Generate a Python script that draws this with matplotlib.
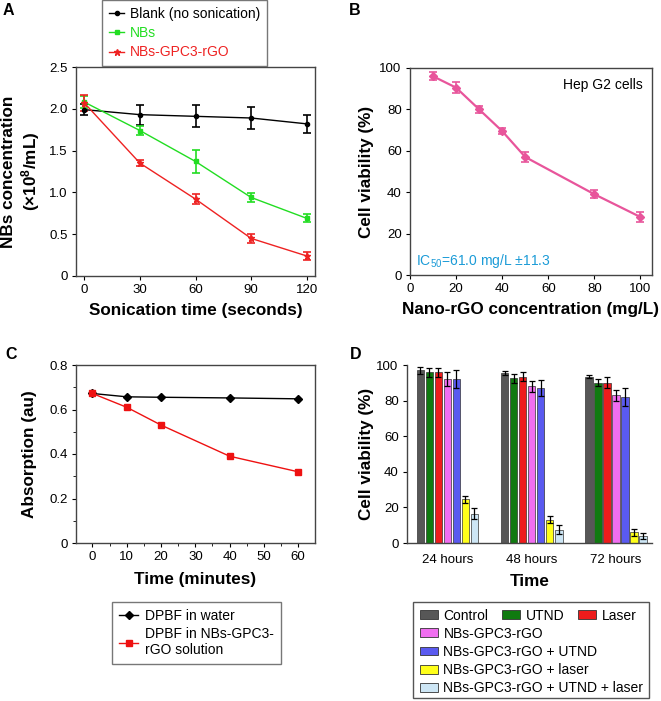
import matplotlib
matplotlib.use("Agg")
import matplotlib.pyplot as plt
import numpy as np
from matplotlib.patches import Patch, Rectangle
from matplotlib.lines import Line2D
from matplotlib.ticker import FuncFormatter, MultipleLocator

plt.rcParams['font.family'] = ['Liberation Sans', 'DejaVu Sans']
plt.rcParams['mathtext.default'] = 'regular'

# ---------------- Data ----------------
# Panel A
time_a = [0, 30, 60, 90, 120]
blank_a = [1.99, 1.93, 1.91, 1.89, 1.82]
blank_err = [0.07, 0.12, 0.13, 0.13, 0.11]
nbs_a = [2.08, 1.74, 1.37, 0.94, 0.69]
nbs_err = [0.07, 0.05, 0.14, 0.05, 0.05]
gpc_a = [2.07, 1.35, 0.92, 0.45, 0.24]
gpc_err = [0.10, 0.04, 0.06, 0.05, 0.05]
labels_a = ['Blank (no sonication)', 'NBs', 'NBs-GPC3-rGO']

# Panel B
conc_b = [10, 20, 30, 40, 50, 80, 100]
viab_b = [96, 90.5, 80, 69.5, 57, 39, 28]
viab_err = [2, 2.5, 1.8, 1.5, 2.5, 2, 2.5]

# Panel C
time_c = [0, 10, 20, 40, 60]
water_c = [0.672, 0.657, 0.655, 0.652, 0.648]
nbsrgo_c = [0.672, 0.61, 0.53, 0.39, 0.32]
labels_c = ['DPBF in water', 'DPBF in NBs-GPC3-\nrGO solution']

# Panel D
groups_d = ['24 hours', '48 hours', '72 hours']
series_d = ['Control', 'UTND', 'Laser', 'NBs-GPC3-rGO', 'NBs-GPC3-rGO + UTND',
            'NBs-GPC3-rGO + laser', 'NBs-GPC3-rGO + UTND + laser']
values_d = [
    [97, 95.5, 93.5],
    [96, 92.5, 90],
    [96, 93.5, 90],
    [92, 88, 83],
    [92, 87, 82],
    [24.5, 13, 6],
    [16.5, 7.5, 4],
]
errors_d = [
    [2, 1, 1],
    [2.5, 2.5, 2],
    [2.5, 2.5, 3],
    [4, 3, 3],
    [5, 4.5, 5],
    [2, 2, 2],
    [3, 2.5, 1.5],
]
colors_d = ['#575757', '#107a10', '#ee1c1c', '#f06ef0', '#5a5af0', '#ffff1a', '#cde6f5']

# ---------------- Figure ----------------
W, H = 661, 701
fig = plt.figure(figsize=(W / 100, H / 100), dpi=100)

def ax_at(l, t, r, b):
    return fig.add_axes([l / W, 1 - b / H, (r - l) / W, (b - t) / H])

TICK = 9.5
LAB = 12.3
LEG = 10
spine_col = '#444444'

def style(ax, box=True):
    for s in ax.spines.values():
        s.set_color(spine_col)
        s.set_linewidth(1.0)
    if not box:
        ax.spines['top'].set_visible(False)
        ax.spines['right'].set_visible(False)
    ax.tick_params(direction='out', length=3, width=0.8, labelsize=TICK, colors='black', pad=3)
    ax.tick_params(which='minor', direction='out', length=2, width=0.6)

zero_fmt = FuncFormatter(lambda v, p: '0' if v == 0 else '%.1f' % v)

# Panel A
axA = ax_at(76, 67, 315, 276)
style(axA)
c_black, c_green, c_red = 'black', '#22dd22', '#ee2222'
hA = []
for y, e, c, m, ms, lab in [(blank_a, blank_err, c_black, 'o', 3, labels_a[0]),
                            (nbs_a, nbs_err, c_green, 's', 3, labels_a[1]),
                            (gpc_a, gpc_err, c_red, '*', 4.5, labels_a[2])]:
    axA.errorbar(time_a, y, yerr=e, color=c, marker=m, markersize=ms, lw=1.0,
                 capsize=3, elinewidth=1.2, capthick=1.2)
    hA.append(Line2D([], [], color=c, marker=m, markersize=ms, lw=1.0, label=lab))
axA.set_xlim(-4.5, 124.5)
axA.set_ylim(0, 2.5)
axA.set_xticks(time_a)
axA.set_yticks([0, 0.5, 1.0, 1.5, 2.0, 2.5])
axA.yaxis.set_major_formatter(zero_fmt)
axA.set_xlabel('Sonication time (seconds)', fontsize=LAB, fontweight='bold')
axA.xaxis.set_label_coords(0.5, (276 - 303) / 209)
axA.set_ylabel('NBs concentration\n(×10$^{8}$/mL)', fontsize=LAB, fontweight='bold')
axA.yaxis.set_label_coords((42 - 76) / 239, 0.5)
legA = fig.legend(handles=hA, loc='upper left', bbox_to_anchor=(102 / W, 1 - 0 / H),
                  fontsize=LEG, frameon=True, fancybox=False, edgecolor='#555555',
                  labelcolor='linecolor', handlelength=1.1, borderpad=0.5, labelspacing=0.38,
                  handletextpad=0.4, borderaxespad=0)
legA.get_frame().set_linewidth(1.0)

# Panel B
axB = ax_at(410, 68, 652, 275)
style(axB)
c_pink = '#e8559b'
axB.errorbar(conc_b, viab_b, yerr=viab_err, color=c_pink, marker='D', markersize=4,
             lw=1.6, capsize=3, elinewidth=1.2, capthick=1.2)
axB.set_xlim(0, 105)
axB.set_ylim(0, 100)
axB.set_xticks([0, 20, 40, 60, 80, 100])
axB.set_yticks([0, 20, 40, 60, 80, 100])
axB.set_xlabel('Nano-rGO concentration (mg/L)', fontsize=LAB, fontweight='bold')
axB.xaxis.set_label_coords(0.5, (275 - 302) / 207)
axB.set_ylabel('Cell viability (%)', fontsize=LAB, fontweight='bold')
axB.yaxis.set_label_coords((374 - 410) / 242, 0.5)
axB.text(0.96, 0.95, 'Hep G2 cells', transform=axB.transAxes, ha='right', va='top', fontsize=LEG)
axB.text(0.025, 0.025, 'IC$_{50}$=61.0 mg/L ±11.3', transform=axB.transAxes, ha='left',
         va='bottom', fontsize=LEG, color='#1b9bd7')

# Panel C
axC = ax_at(76, 365, 315, 543)
style(axC)
axC.plot(time_c, water_c, color='black', marker='D', markersize=4, lw=1.0, label=labels_c[0])
axC.plot(time_c, nbsrgo_c, color='#ee1111', marker='s', markersize=5, lw=1.0, label=labels_c[1])
axC.set_xlim(-4.8, 64.9)
axC.set_ylim(0, 0.8)
axC.set_xticks([0, 10, 20, 30, 40, 50, 60])
axC.set_yticks([0, 0.2, 0.4, 0.6, 0.8])
axC.xaxis.set_minor_locator(MultipleLocator(5))
axC.yaxis.set_minor_locator(MultipleLocator(0.1))
axC.yaxis.set_major_formatter(zero_fmt)
axC.set_xlabel('Time (minutes)', fontsize=LAB, fontweight='bold')
axC.xaxis.set_label_coords(0.5, (543 - 572) / 178)
axC.set_ylabel('Absorption (au)', fontsize=LAB, fontweight='bold')
axC.yaxis.set_label_coords((37 - 76) / 239, 0.5)
hC, lC = axC.get_legend_handles_labels()
legC = fig.legend(hC, lC, loc='upper left', bbox_to_anchor=(112 / W, 1 - 602 / H),
                  fontsize=LEG, frameon=True, fancybox=False, edgecolor='#555555',
                  handlelength=1.4, borderpad=0.5, labelspacing=0.3, handletextpad=0.5,
                  borderaxespad=0)
legC.get_frame().set_linewidth(1.0)

# Panel D
axD = ax_at(407, 365, 652, 543)
style(axD, box=False)
nser = len(series_d)
slot = 0.107
bw = 0.092
x = np.arange(len(groups_d))
for i in range(nser):
    off = (i - (nser - 1) / 2) * slot
    axD.bar(x + off, values_d[i], width=bw, color=colors_d[i], edgecolor='#333333',
            linewidth=0.5, yerr=errors_d[i], capsize=2,
            error_kw=dict(elinewidth=0.9, capthick=0.9, ecolor='black'))
axD.set_xlim(-0.48, 2.43)
axD.set_ylim(0, 100)
axD.set_xticks(x)
axD.set_xticklabels(groups_d)
axD.tick_params(axis='x', length=0, pad=8)
axD.set_yticks([0, 20, 40, 60, 80, 100])
axD.set_xlabel('Time', fontsize=LAB, fontweight='bold')
axD.xaxis.set_label_coords(0.5, (543 - 574) / 178)
axD.set_ylabel('Cell viability (%)', fontsize=LAB, fontweight='bold')
axD.yaxis.set_label_coords((374 - 407) / 245, 0.5)

handlesD = [Patch(facecolor=colors_d[i], edgecolor='#333333', linewidth=0.6, label=series_d[i])
            for i in range(nser)]
leg1 = fig.legend(handles=handlesD[:3], loc='upper left', bbox_to_anchor=(417 / W, 1 - 606 / H),
                  ncol=3, fontsize=LEG, frameon=False, handlelength=1.3, handleheight=0.6,
                  handletextpad=0.4, columnspacing=1.0, borderpad=0.2, borderaxespad=0)
leg2 = fig.legend(handles=handlesD[3:], loc='upper left', bbox_to_anchor=(417 / W, 1 - 624 / H),
                  ncol=1, fontsize=LEG, frameon=False, handlelength=1.3, handleheight=0.6,
                  handletextpad=0.4, labelspacing=0.3, borderpad=0.2, borderaxespad=0)
fig.add_artist(Rectangle((413 / W, 1 - 698 / H), (649 - 413) / W, (698 - 602) / H,
                         transform=fig.transFigure, fill=False, edgecolor='#555555', lw=1.0))

# Panel letters
for lab, (px, py) in zip('ABCD', [(3, 3), (349, 3), (5, 347), (350, 347)]):
    fig.text(px / W, 1 - py / H, lab, fontsize=11.5, fontweight='bold', ha='left', va='top')

fig.savefig('out.png', dpi=100)
